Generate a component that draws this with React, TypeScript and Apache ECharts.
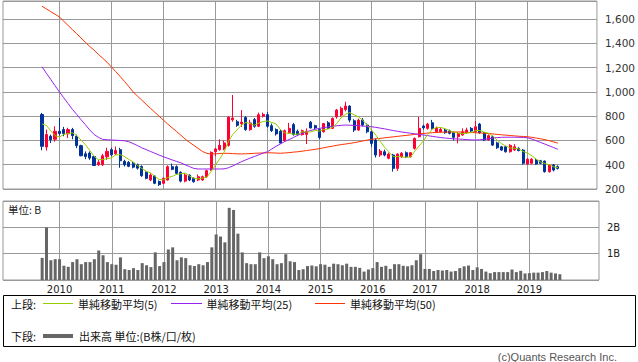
import { useEffect, useRef } from 'react';
import * as echarts from 'echarts';

// Monthly axis: Dec 2008 .. May 2020 (138 months); data starts Sep 2009
const START_YEAR = 2008;
const START_MONTH = 12;
const MONTH_COUNT = 138;
const FIRST_DATA_INDEX = 9;
const FIRST_LABEL_YEAR = 2010;
const LAST_LABEL_YEAR = 2019;

const opens = [
  814, 546, 635, 610, 676, 690, 655, 690, 635, 557,
  490, 496, 468, 400, 400, 465, 524, 490, 524, 428,
  420, 413, 400, 386, 338, 274, 307, 262, 247, 274,
  384, 384, 338, 265, 315, 288, 274, 274, 301, 359,
  508, 525, 530, 560, 770, 755, 738, 790, 690, 772,
  717, 800, 813, 722, 690, 676, 599, 665, 731, 676,
  648, 650, 751, 722, 690, 672, 746, 700, 795, 809,
  855, 884, 763, 686, 768, 727, 672, 604, 480, 507,
  453, 480, 370, 466, 499, 466, 535, 631, 719, 700,
  746, 672, 672, 686, 678, 664, 631, 645, 664, 700,
  672, 735, 664, 604, 630, 580, 548, 548, 507, 521,
  535, 521, 406, 412, 439, 433, 430, 343, 398, 384,
];
const closes = [
  552, 649, 607, 676, 657, 657, 690, 640, 557, 474,
  468, 455, 394, 420, 474, 510, 482, 518, 433, 400,
  387, 380, 372, 310, 288, 315, 247, 236, 288, 384,
  362, 329, 265, 315, 274, 260, 301, 301, 351, 502,
  530, 560, 580, 792, 785, 725, 752, 690, 745, 717,
  813, 815, 717, 681, 654, 579, 681, 700, 648, 648,
  681, 676, 703, 703, 625, 740, 700, 782, 851, 865,
  884, 768, 686, 768, 727, 672, 576, 480, 513, 480,
  488, 370, 488, 494, 466, 499, 617, 700, 705, 735,
  700, 700, 691, 664, 659, 626, 659, 672, 686, 678,
  713, 664, 604, 640, 562, 540, 521, 507, 560, 548,
  517, 412, 445, 445, 406, 412, 343, 398, 356, 370,
];
const lows = [
  519, 517, 579, 590, 640, 635, 620, 610, 537, 470,
  446, 440, 390, 390, 390, 440, 470, 480, 375, 385,
  380, 370, 360, 300, 280, 265, 240, 225, 240, 270,
  355, 320, 255, 255, 265, 252, 265, 268, 290, 350,
  470, 515, 520, 550, 755, 712, 712, 680, 680, 705,
  710, 790, 705, 670, 640, 575, 590, 655, 640, 640,
  640, 571, 700, 695, 610, 665, 695, 695, 780, 795,
  840, 750, 670, 680, 715, 660, 548, 460, 465, 470,
  445, 343, 350, 455, 455, 460, 525, 625, 690, 690,
  690, 665, 665, 655, 650, 600, 576, 640, 655, 670,
  665, 655, 595, 600, 555, 530, 515, 500, 500, 515,
  510, 400, 400, 405, 400, 405, 335, 335, 345, 360,
];
const highs = [
  827, 690, 648, 717, 786, 712, 705, 704, 648, 565,
  510, 510, 475, 440, 490, 540, 540, 550, 540, 440,
  430, 425, 410, 395, 345, 330, 315, 270, 295, 395,
  410, 395, 345, 330, 320, 295, 320, 310, 360, 510,
  540, 610, 600, 800, 975, 770, 850, 800, 770, 785,
  830, 830, 835, 740, 700, 690, 690, 745, 745, 690,
  690, 700, 760, 730, 700, 745, 760, 790, 860, 880,
  919, 890, 775, 780, 785, 740, 685, 615, 530, 525,
  500, 490, 495, 505, 510, 505, 625, 795, 730, 745,
  770, 715, 705, 700, 690, 672, 668, 700, 705, 710,
  760, 745, 670, 650, 640, 590, 555, 555, 570, 570,
  545, 530, 455, 455, 450, 440, 435, 405, 405, 395,
];
// volume in billions (B)
const volumes = [
  0.84, 2.0, 0.75, 0.79, 0.79, 0.54, 0.5, 0.68, 0.79, 0.6,
  0.68, 0.68, 0.79, 1.12, 0.94, 0.68, 0.6, 0.58, 0.86, 0.41,
  0.38, 0.45, 0.38, 0.64, 0.56, 0.49, 1.05, 0.53, 0.68, 1.16,
  1.24, 0.75, 0.86, 0.83, 0.56, 0.53, 0.6, 0.56, 0.68, 1.24,
  1.73, 1.65, 1.43, 2.74, 2.66, 1.76, 1.05, 0.64, 0.6, 0.6,
  1.05, 0.83, 0.9, 0.79, 0.6, 0.64, 0.98, 0.71, 0.68, 0.38,
  0.41, 0.53, 0.55, 0.52, 0.6, 0.58, 0.5, 0.62, 0.6, 0.56,
  0.62, 0.5, 0.5, 0.46, 0.32, 0.4, 0.45, 0.68, 0.5, 0.54,
  0.42, 0.6, 0.6, 0.54, 0.52, 0.56, 0.75, 0.98, 0.42, 0.42,
  0.34, 0.38, 0.36, 0.38, 0.32, 0.34, 0.45, 0.52, 0.55, 0.38,
  0.48, 0.42, 0.32, 0.26, 0.3, 0.3, 0.3, 0.3, 0.4, 0.3,
  0.35, 0.25, 0.26, 0.28, 0.28, 0.3, 0.34, 0.28, 0.25, 0.22,
];
// MA5 for the first four months (depends on earlier, unseen closes)
const ma5Head = [736, 725, 680, 640];
const ma25 = [
  1207, 1155, 1104, 1052, 1001, 953, 905, 857, 815, 772,
  730, 687, 650, 626, 609, 606, 604, 602, 600, 598,
  590, 575, 558, 540, 525, 510, 495, 480, 466, 453,
  440, 428, 416, 400, 385, 370, 365, 365, 365, 365,
  365, 365, 366, 375, 390, 408, 425, 440, 455, 468,
  482, 496, 507, 530, 552, 572, 592, 608, 625, 643,
  658, 672, 683, 692, 700, 706, 712, 717, 721, 725,
  727, 726, 724, 722, 719, 716, 713, 708, 702, 696,
  689, 682, 676, 670, 665, 660, 655, 650, 645, 640,
  634, 629, 624, 620, 617, 614, 612, 610, 607, 605,
  604, 606, 610, 615, 620, 624, 626, 627, 627, 627,
  626, 625, 622, 612, 598, 584, 570, 556, 542, 527,
];
const ma50 = [
  1707, 1685, 1663, 1641, 1619, 1584, 1549, 1514, 1480, 1445,
  1410, 1375, 1345, 1310, 1278, 1245, 1207, 1168, 1128, 1088,
  1045, 1001, 967, 933, 899, 866, 833, 800, 768, 735,
  705, 675, 645, 612, 585, 560, 535, 510, 494, 488,
  490, 492, 494, 494, 492, 490, 489, 490, 492, 494,
  496, 497, 499, 498, 496, 495, 497, 500, 504, 507,
  512, 517, 522, 527, 533, 540, 547, 553, 560, 566,
  571, 576, 582, 589, 596, 603, 610, 614, 617, 622,
  626, 630, 634, 638, 642, 646, 650, 654, 658, 661,
  664, 666, 668, 669, 670, 670, 670, 669, 668, 666,
  664, 662, 660, 657, 654, 650, 647, 644, 641, 638,
  635, 633, 631, 626, 620, 614, 607, 598, 588, 578,
];

const PRICE_MIN = 200;
const PRICE_MAX = 1750;
const PRICE_STEP = 200;
const VOL_MAX = 3;

const UP = '#ff0033';
const DOWN = '#003399';
const MA5C = '#99cc00';
const MA25C = '#9922ee';
const MA50C = '#ff3300';
const VOLC = '#666666';
const GRIDC = '#999999';
const CJK = '"Noto Sans CJK JP", sans-serif';

function buildOption() {
  const cats: string[] = [];
  for (let i = 0; i < MONTH_COUNT; i++) {
    const t = START_MONTH - 1 + i;
    const y = START_YEAR + Math.floor(t / 12);
    const m = (t % 12) + 1;
    cats.push(`${y}-${m < 10 ? '0' + m : m}`);
  }
  const isYearStart = (i: number) => {
    const t = START_MONTH - 1 + i;
    const y = START_YEAR + Math.floor(t / 12);
    return t % 12 === 0 && y >= FIRST_LABEL_YEAR && y <= LAST_LABEL_YEAR;
  };

  const pad = (k: number) => k < 0 || k >= closes.length;
  const candle = cats.map((_, i) => {
    const k = i - FIRST_DATA_INDEX;
    if (pad(k)) return ['-', '-', '-', '-'];
    return [opens[k], closes[k], lows[k], highs[k]];
  });
  const ma5Line = cats.map((_, i) => {
    const k = i - FIRST_DATA_INDEX;
    if (pad(k)) return '-';
    if (k < ma5Head.length) return ma5Head[k];
    let s = 0;
    for (let j = k - 4; j <= k; j++) s += closes[j];
    return Math.round((s / 5) * 10) / 10;
  });
  const fromArr = (arr: number[]) =>
    cats.map((_, i) => {
      const k = i - FIRST_DATA_INDEX;
      return pad(k) ? '-' : arr[k];
    });

  const splitLine = {
    show: true,
    interval: (i: number) => isYearStart(i),
    lineStyle: { color: GRIDC, width: 1 },
  };

  const lineSeries = (name: string, data: any[], color: string) => ({
    name,
    type: 'line',
    xAxisIndex: 0,
    yAxisIndex: 0,
    data,
    symbol: 'none',
    lineStyle: { color, width: 1 },
    itemStyle: { color },
    z: 3,
  });

  return {
    animation: false,
    backgroundColor: '#ffffff',
    grid: [
      { left: 3, top: 1, width: 596, height: 188, show: true, borderColor: GRIDC, borderWidth: 1, backgroundColor: 'transparent' },
      { left: 3, top: 201, width: 596, height: 79, show: true, borderColor: GRIDC, borderWidth: 1, backgroundColor: 'transparent' },
    ],
    xAxis: [
      {
        type: 'category', gridIndex: 0, data: cats, boundaryGap: false,
        axisLine: { show: false }, axisTick: { show: false }, axisLabel: { show: false },
        splitLine,
      },
      {
        type: 'category', gridIndex: 1, data: cats, boundaryGap: false,
        axisLine: { show: false }, axisTick: { show: false },
        axisLabel: {
          show: true,
          interval: (i: number) => isYearStart(i),
          formatter: (v: string) => v.slice(0, 4),
          margin: 4,
          fontSize: 10,
          color: '#222',
          fontFamily: 'DejaVu Sans',
        },
        splitLine,
      },
    ],
    yAxis: [
      {
        type: 'value', gridIndex: 0, position: 'right',
        min: PRICE_MIN, max: PRICE_MAX, interval: PRICE_STEP,
        axisLine: { show: false }, axisTick: { show: false },
        axisLabel: {
          margin: 8, fontSize: 10.5, color: '#333', fontFamily: 'DejaVu Sans',
          showMaxLabel: false,
          formatter: (v: number) => v.toLocaleString('en-US'),
        },
        splitLine: { show: true, lineStyle: { color: GRIDC, width: 1 } },
      },
      {
        type: 'value', gridIndex: 1, position: 'right',
        min: 0, max: VOL_MAX, interval: 1,
        axisLine: { show: false }, axisTick: { show: false },
        axisLabel: {
          margin: 8, fontSize: 10, color: '#222', fontFamily: 'DejaVu Sans',
          formatter: (v: number) => (v === 1 || v === 2 ? `${v}B` : ''),
        },
        splitLine: { show: true, lineStyle: { color: GRIDC, width: 1 } },
      },
    ],
    series: [
      {
        name: 'price',
        type: 'candlestick',
        xAxisIndex: 0,
        yAxisIndex: 0,
        data: candle,
        barWidth: 2.6,
        itemStyle: {
          color: UP, color0: DOWN, borderColor: UP, borderColor0: DOWN, borderWidth: 1,
        },
        z: 2,
      },
      lineSeries('単純移動平均(50)', fromArr(ma50), MA50C),
      lineSeries('単純移動平均(25)', fromArr(ma25), MA25C),
      lineSeries('単純移動平均(5)', ma5Line, MA5C),
      {
        name: '出来高',
        type: 'bar',
        xAxisIndex: 1,
        yAxisIndex: 1,
        data: fromArr(volumes),
        barWidth: 3,
        itemStyle: { color: VOLC },
      },
    ],
    graphic: [
      { type: 'text', x: 8, y: 209, style: { text: '単位: B', fill: '#222', font: `10.5px ${CJK}`, verticalAlign: 'middle' } },
      { type: 'rect', shape: { x: 3.5, y: 295.5, width: 632, height: 51 }, style: { fill: 'none', stroke: '#000', lineWidth: 1 } },
      { type: 'text', x: 11, y: 303.5, style: { text: '上段:', fill: '#111', font: `11px ${CJK}`, verticalAlign: 'middle' } },
      { type: 'line', shape: { x1: 43, y1: 303.5, x2: 73, y2: 303.5 }, style: { stroke: MA5C, lineWidth: 1 } },
      { type: 'text', x: 78, y: 303.5, style: { text: '単純移動平均(5)', fill: '#111', font: `11px ${CJK}`, verticalAlign: 'middle' } },
      { type: 'line', shape: { x1: 171, y1: 303.5, x2: 202, y2: 303.5 }, style: { stroke: MA25C, lineWidth: 1 } },
      { type: 'text', x: 206.5, y: 303.5, style: { text: '単純移動平均(25)', fill: '#111', font: `11px ${CJK}`, verticalAlign: 'middle' } },
      { type: 'line', shape: { x1: 315, y1: 303.5, x2: 345, y2: 303.5 }, style: { stroke: MA50C, lineWidth: 1 } },
      { type: 'text', x: 350, y: 303.5, style: { text: '単純移動平均(50)', fill: '#111', font: `11px ${CJK}`, verticalAlign: 'middle' } },
      { type: 'text', x: 11, y: 336, style: { text: '下段:', fill: '#111', font: `11px ${CJK}`, verticalAlign: 'middle' } },
      { type: 'line', shape: { x1: 43, y1: 336, x2: 73, y2: 336 }, style: { stroke: VOLC, lineWidth: 4 } },
      { type: 'text', x: 79, y: 336, style: { text: '出来高 単位:(B株/口/枚)', fill: '#111', font: `11px ${CJK}`, verticalAlign: 'middle' } },
      { type: 'text', x: 617, y: 357, style: { text: '(c)Quants Research Inc.', fill: '#555', font: '11px "Liberation Sans", sans-serif', align: 'right', verticalAlign: 'middle' } },
    ],
  };
}

export default function App() {
  const ref = useRef<HTMLDivElement>(null);
  useEffect(() => {
    if (!ref.current) return;
    const chart = echarts.init(ref.current, undefined, { renderer: 'svg' });
    chart.setOption(buildOption() as any);
    return () => chart.dispose();
  }, []);
  return (
    <div
      ref={ref}
      style={{ position: 'fixed', left: 0, top: 0, width: 638, height: 362, background: '#fff' }}
    />
  );
}
